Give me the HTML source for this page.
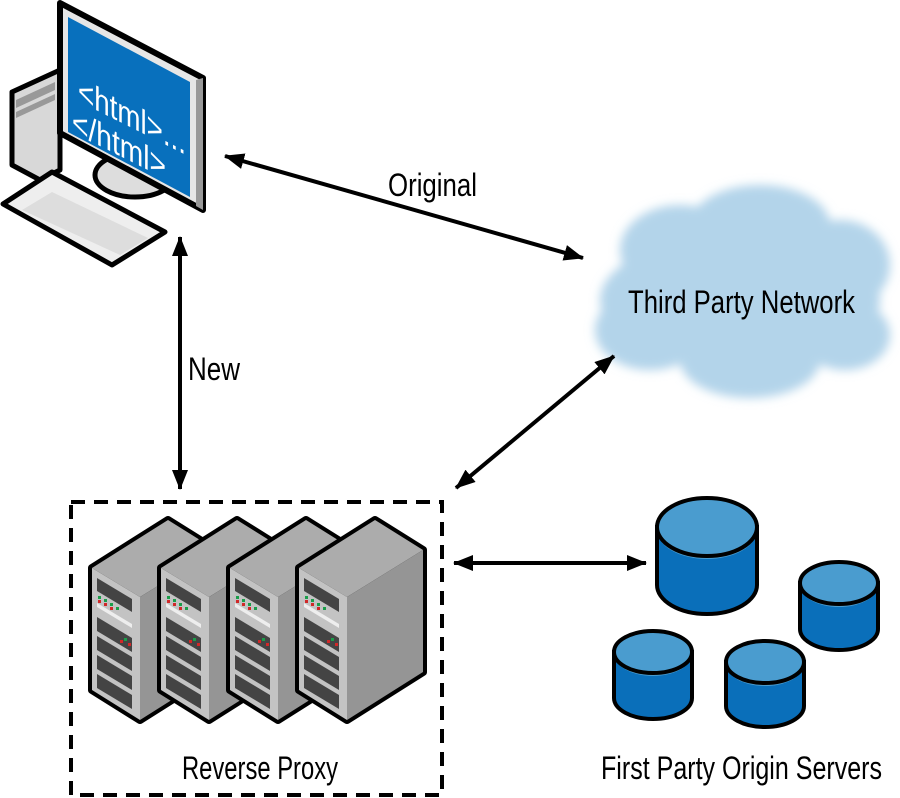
<!DOCTYPE html>
<html><head><meta charset="utf-8"><style>html,body{margin:0;padding:0;background:#fff}svg{display:block}</style></head>
<body>
<svg width="900" height="798" viewBox="0 0 900 798" xmlns="http://www.w3.org/2000/svg" font-family="'Liberation Sans',sans-serif">
<defs>
<marker id="ah" viewBox="0 0 20 16" refX="19" refY="8" markerWidth="20" markerHeight="16" markerUnits="userSpaceOnUse" orient="auto-start-reverse"><path d="M0,0 L20,8 L0,16 z" fill="#000"/></marker>
<filter id="blur" x="-10%" y="-10%" width="120%" height="120%"><feGaussianBlur stdDeviation="5"/></filter>
<g id="srv">
<polygon points="92,568 168,520 216,550 216,672 140,720 92,690" fill="#000" stroke="#000" stroke-width="8" stroke-linejoin="round"/>
<polygon points="92,568 168,520 216,550 140,597" fill="#acacac"/>
<polygon points="140,597 216,550 216,672 140,720" fill="#959595"/>
<polygon points="92,568 140,597 140,720 92,690" fill="#c3c3c3"/>
<polygon points="97,578 132,599 132,612 97,591" fill="#444"/>
<polygon points="97,603 132,624 132,628 97,607" fill="#eee"/>
<polygon points="97,617 132,638 132,652 97,631" fill="#444"/>
<polygon points="97,636 132,657 132,671 97,650" fill="#444"/>
<polygon points="97,655 132,676 132,690 97,669" fill="#444"/>
<polygon points="97,674 132,695 132,709 97,688" fill="#444"/>
<g fill="#1a9e4a"><rect x="98" y="596" width="3" height="3"/><rect x="104" y="599" width="3" height="3"/><rect x="110" y="603" width="3" height="3"/><rect x="116" y="607" width="3" height="3"/><rect x="124" y="638" width="3" height="3"/></g>
<g fill="#d02828"><rect x="98" y="600" width="3" height="3"/><rect x="104" y="603" width="3" height="3"/><rect x="110" y="607" width="3" height="3"/><rect x="120" y="640" width="3" height="3"/><rect x="128" y="643" width="3" height="3"/></g>
</g>
</defs>

<!-- computer -->
<polygon points="12,92 60,70 60,170 40,180 12,165" fill="#d8d8d8" stroke="#000" stroke-width="5" stroke-linejoin="round"/>
<polygon points="16,100 55,82 55,90 16,108" fill="#999"/>
<polygon points="16,112 55,94 55,100 16,118" fill="#999"/>
<ellipse cx="135" cy="175" rx="40" ry="22" fill="#ddd" stroke="#000" stroke-width="5"/>
<polygon points="60,3 203,78 203,210 60,133" fill="#e6e6e6" stroke="#000" stroke-width="6" stroke-linejoin="round"/>
<polygon points="196,80 203,78 203,210 196,206" fill="#999"/>
<polygon points="68,17 190,82 190,197 68,132" fill="#0870bd"/>
<polygon points="3,204 52,172 165,232 112,265" fill="#eee" stroke="#000" stroke-width="5" stroke-linejoin="round"/>
<polygon points="22,210 52,192 148,238 120,255" fill="#ddd"/>
<g transform="matrix(1,0.5,0,1,0,0)" fill="#fff" font-size="34">
<text x="78" y="62" textLength="108" lengthAdjust="spacingAndGlyphs">&lt;html&gt;...</text>
<text x="72" y="96" textLength="94" lengthAdjust="spacingAndGlyphs">&lt;/html&gt;</text>
</g>

<!-- cloud -->
<g fill="#b3d4ea" filter="url(#blur)">
<ellipse cx="740" cy="300" rx="140" ry="65"/>
<ellipse cx="680" cy="250" rx="60" ry="45"/>
<ellipse cx="760" cy="225" rx="70" ry="40"/>
<ellipse cx="840" cy="265" rx="50" ry="45"/>
<ellipse cx="650" cy="330" rx="55" ry="40"/>
<ellipse cx="750" cy="360" rx="70" ry="38"/>
<ellipse cx="845" cy="335" rx="45" ry="35"/>
</g>
<text x="628" y="313" font-size="32" textLength="227" lengthAdjust="spacingAndGlyphs">Third Party Network</text>

<!-- arrows -->
<g stroke="#000" stroke-width="4" fill="none">
<line x1="225" y1="156" x2="583" y2="258" marker-start="url(#ah)" marker-end="url(#ah)"/>
<line x1="180" y1="237" x2="180" y2="489" marker-start="url(#ah)" marker-end="url(#ah)"/>
<line x1="456" y1="488" x2="614" y2="356" marker-start="url(#ah)" marker-end="url(#ah)"/>
<line x1="454" y1="563" x2="646" y2="563" marker-start="url(#ah)" marker-end="url(#ah)"/>
</g>
<text x="388" y="196" font-size="32" textLength="89" lengthAdjust="spacingAndGlyphs">Original</text>
<text x="188" y="380" font-size="32" textLength="52" lengthAdjust="spacingAndGlyphs">New</text>

<!-- dashed box -->
<rect x="71" y="502" width="371" height="293" fill="none" stroke="#000" stroke-width="4" stroke-dasharray="14,9"/>
<use href="#srv"/>
<use href="#srv" x="69"/>
<use href="#srv" x="138"/>
<use href="#srv" x="207"/>
<text x="182" y="779" font-size="32" textLength="156" lengthAdjust="spacingAndGlyphs">Reverse Proxy</text>

<!-- databases -->
<g stroke="#000" stroke-width="4">
<g><path d="M657,527 L657,585 A50,29 0 0 0 757,585 L757,527 Z" fill="#0a6fba"/><path d="M657,527 A50,29 0 0 1 757,527 L757,530 A50,29 0 0 1 657,530 Z" fill="#4a9ccf" stroke="none"/><ellipse cx="707" cy="527" rx="50" ry="29" fill="none"/></g>
<g><path d="M800,583 L800,629 A39,21 0 0 0 878,629 L878,583 Z" fill="#0a6fba"/><path d="M800,583 A39,22 0 0 1 878,583 L878,585 A39,22 0 0 1 800,585 Z" fill="#4a9ccf" stroke="none"/><ellipse cx="839" cy="583" rx="39" ry="21" fill="none"/></g>
<g><path d="M614,652 L614,698 A39,21 0 0 0 692,698 L692,652 Z" fill="#0a6fba"/><path d="M614,652 A39,22 0 0 1 692,652 L692,654 A39,22 0 0 1 614,654 Z" fill="#4a9ccf" stroke="none"/><ellipse cx="653" cy="652" rx="39" ry="21" fill="none"/></g>
<g><path d="M726,662 L726,706 A39,21 0 0 0 804,706 L804,662 Z" fill="#0a6fba"/><path d="M726,662 A39,22 0 0 1 804,662 L804,664 A39,22 0 0 1 726,664 Z" fill="#4a9ccf" stroke="none"/><ellipse cx="765" cy="662" rx="39" ry="21" fill="none"/></g>
</g>
<text x="601" y="779" font-size="32" textLength="281" lengthAdjust="spacingAndGlyphs">First Party Origin Servers</text>
</svg>
</body></html>
